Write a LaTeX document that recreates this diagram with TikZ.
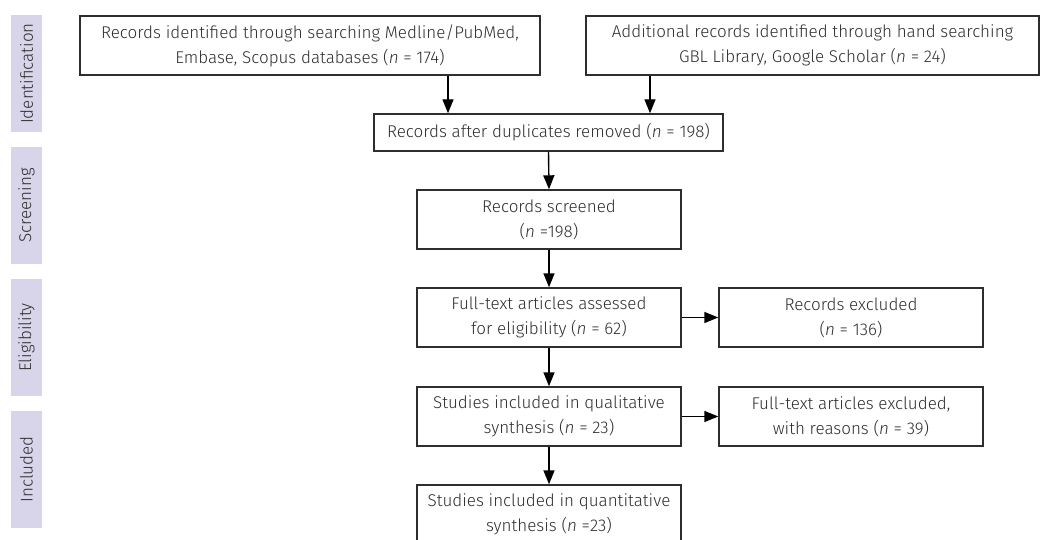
\documentclass[tikz,border=0pt]{standalone}
\usepackage{fontspec}
\IfFontExistsTF{Fira Sans Book}{\setmainfont{Fira Sans Book}[ItalicFont={Fira Sans Book Italic}]}{\setmainfont{Fira Sans Light}}
\usetikzlibrary{arrows.meta}
\definecolor{lav}{HTML}{D8D5EA}
\definecolor{ink}{HTML}{2E2E2E}
\tikzset{
  box/.style={draw=ink, line width=1.4pt, inner sep=0pt, text=ink, align=center, font=\fontsize{17}{25}\selectfont},
  side/.style={fill=lav, inner sep=0pt, minimum width=117pt, minimum height=31pt, text=ink, rotate=90, font=\fontsize{17}{20}\selectfont},
  arr/.style={draw=black, line width=1.4pt, -{Triangle[length=14pt,width=11pt]}}
}
\begin{document}
\begin{tikzpicture}[x=1pt,y=-1pt]
\useasboundingbox (0,0) rectangle (1041,540);
\node[side] (s1) at (26.5,73.5) {Identification};
\node[side] (s2) at (26.5,205.5) {Screening};
\node[side] (s3) at (26.5,337.5) {Eligibility};
\node[side] (s4) at (26.5,469.5) {Included};

\node[box, minimum width=460pt, minimum height=59pt] (b1) at (310,45.5) {Records identified through searching Medline/PubMed,\\Embase, Scopus databases (\textit{n} = 174)};
\node[box, minimum width=453pt, minimum height=59pt] (b2) at (812.5,45.5) {Additional records identified through hand searching\\GBL Library, Google Scholar (\textit{n} = 24)};
\node[box, minimum width=349pt, minimum height=37pt] (dup) at (548.5,132.5) {Records after duplicates removed (\textit{n} = 198)};
\node[box, minimum width=264pt, minimum height=59pt] (scr) at (549,219.5) {Records screened\\(\textit{n} =198)};
\node[box, minimum width=264pt, minimum height=59pt] (full) at (549,317.5) {Full-text articles assessed\\for eligibility (\textit{n} = 62)};
\node[box, minimum width=264pt, minimum height=59pt] (rex) at (851,317.5) {Records excluded\\(\textit{n} = 136)};
\node[box, minimum width=264pt, minimum height=59pt] (qual) at (549,416.5) {Studies included in qualitative\\synthesis (\textit{n} = 23)};
\node[box, minimum width=264pt, minimum height=59pt] (fex) at (851,416.5) {Full-text articles excluded,\\with reasons (\textit{n} = 39)};
\node[box, minimum width=264pt, minimum height=59pt] (quan) at (549,514.5) {Studies included in quantitative\\synthesis (\textit{n} =23)};

\draw[arr] ([xshift=138pt]b1.south) -- ([xshift=138pt]b1.south |- dup.north);
\draw[arr] ([xshift=-162.5pt]b2.south) -- ([xshift=-162.5pt]b2.south |- dup.north);
\draw[arr] (dup.south) -- (scr.north);
\draw[arr] (scr.south) -- (full.north);
\draw[arr] (full.east) -- (rex.west);
\draw[arr] (full.south) -- (qual.north);
\draw[arr] (qual.east) -- (fex.west);
\draw[arr] (qual.south) -- (quan.north);
\end{tikzpicture}
\end{document}
